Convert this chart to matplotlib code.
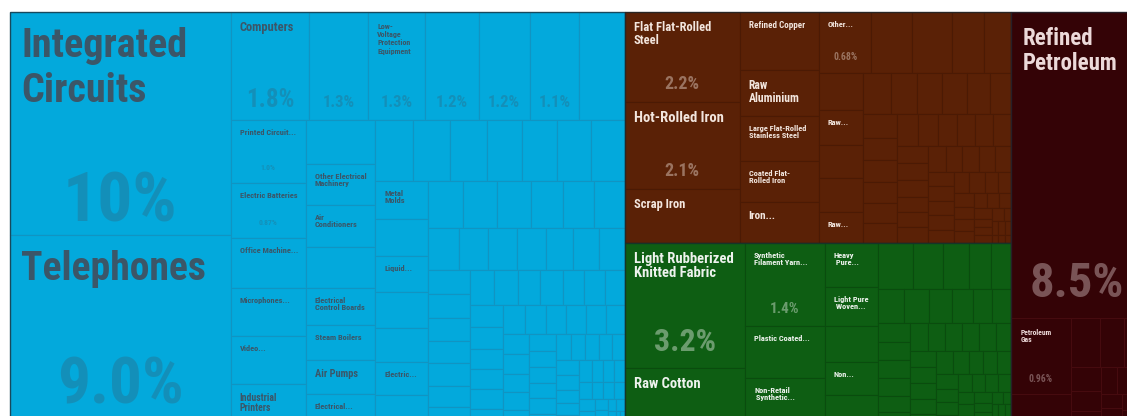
import matplotlib
matplotlib.use("Agg")
import matplotlib.pyplot as plt
from matplotlib.patches import Rectangle
from matplotlib import font_manager as fm

# ---------------- data (share of total, %) ----------------
group_names = ["Machines", "Metals", "Textiles", "Mineral Products"]

machines_names = [
    "Integrated\nCircuits", "Telephones",
    "Computers", "", "Low-\nVoltage\nProtection\nEquipment", "", "", "", "",
    "Printed Circuit...", "Electric Batteries", "Office Machine...", "Microphones...", "Video...", "Industrial\nPrinters",
    "", "Other Electrical\nMachinery", "Air\nConditioners", "", "Electrical\nControl Boards", "Steam Boilers", "Air Pumps", "Electrical...",
    "", "", "", "", "", "", "",
    "Metal\nMolds", "", "Liquid...", "", "", "Electric...", "",
]
machines_values = [
    10.4, 9.0,
    1.8, 1.34, 1.3, 1.23, 1.16, 1.14, 1.03,
    1.0, 0.87, 0.80, 0.77, 0.76, 0.70,
    0.64, 0.61, 0.61, 0.60, 0.55, 0.51, 0.50, 0.50,
    0.49, 0.48, 0.47, 0.46, 0.45, 0.44, 0.43,
    0.42, 0.41, 0.40, 0.39, 0.38, 0.37, 0.36,
    0.35, 0.34, 0.33, 0.32, 0.31, 0.30,
    0.27, 0.26, 0.25, 0.25, 0.24, 0.23, 0.22,
    0.22, 0.21, 0.21, 0.20, 0.20, 0.19, 0.19,
    0.18, 0.18, 0.17, 0.17, 0.16, 0.16, 0.15,
    0.15, 0.15, 0.14, 0.14, 0.14, 0.13, 0.13, 0.13, 0.12, 0.12, 0.12,
    0.11, 0.11, 0.11, 0.10, 0.10, 0.10, 0.10, 0.09, 0.09, 0.09, 0.09,
    0.08, 0.08, 0.08, 0.08, 0.07, 0.07, 0.07, 0.07, 0.06, 0.06, 0.06, 0.06,
    0.05, 0.05, 0.05, 0.05, 0.04, 0.04, 0.04, 0.04, 0.03, 0.03, 0.03, 0.03,
    0.02, 0.02, 0.02, 0.02, 0.01, 0.01, 0.01, 0.01,
]

metals_names = [
    "Flat Flat-Rolled\nSteel", "Hot-Rolled Iron", "Scrap Iron",
    "Refined Copper", "Raw\nAluminium", "Large Flat-Rolled\nStainless Steel", "Coated Flat-\nRolled Iron", "Iron...",
    "Other...", "", "", "", "",
    "", "Raw...", "", "", "Raw...",
]
metals_values = [
    2.2, 2.1, 1.31,
    0.97, 0.77, 0.75, 0.69, 0.68,
    0.68, 0.53, 0.51, 0.41, 0.36,
    0.34, 0.33, 0.31, 0.31, 0.29,
    0.24, 0.23, 0.22, 0.21, 0.20, 0.19,
    0.17, 0.16, 0.16, 0.15, 0.15, 0.14, 0.14, 0.13, 0.13, 0.12, 0.12, 0.12,
    0.11, 0.11, 0.11, 0.10, 0.10, 0.10, 0.10, 0.09, 0.09, 0.09, 0.09,
    0.08, 0.08, 0.08, 0.08, 0.07, 0.07, 0.07, 0.06, 0.06, 0.06,
    0.05, 0.05, 0.05, 0.04, 0.04, 0.04, 0.04, 0.03, 0.03, 0.03, 0.03,
    0.02, 0.02, 0.02, 0.02, 0.01, 0.01, 0.01,
]

textiles_names = [
    "Light Rubberized\nKnitted Fabric", "Raw Cotton",
    "Synthetic\nFilament Yarn...", "Plastic Coated...", "Non-Retail\n Synthetic...",
    "Heavy\n Pure...", "Light Pure\n Woven...", "", "Non...", "",
]
textiles_values = [
    3.2, 1.52,
    1.4, 0.88, 0.84,
    0.50, 0.44, 0.40, 0.37, 0.37,
    0.34, 0.29, 0.26, 0.21, 0.20,
    0.19, 0.18, 0.17, 0.15, 0.14, 0.14,
    0.13, 0.12, 0.12, 0.12, 0.11, 0.11, 0.11, 0.10, 0.10, 0.10, 0.10,
    0.09, 0.09, 0.09, 0.09, 0.08, 0.08, 0.08, 0.08, 0.07, 0.07, 0.07, 0.07,
    0.06, 0.06, 0.06, 0.05, 0.05, 0.05, 0.05, 0.04, 0.04, 0.04, 0.04,
    0.03, 0.03, 0.03, 0.03, 0.02, 0.02, 0.02, 0.02, 0.01, 0.01, 0.01, 0.01,
]

minerals_names = ["Refined\nPetroleum", "Petroleum\nGas"]
minerals_values = [
    8.5, 0.96, 0.42, 0.30, 0.25, 0.20, 0.16, 0.13, 0.11, 0.09, 0.08,
    0.07, 0.06, 0.05, 0.04, 0.04, 0.03, 0.03, 0.02, 0.02, 0.01,
]

# tiles whose share label is visible
machines_share_shown = [0, 1, 2, 3, 4, 5, 6, 7, 9, 10]
metals_share_shown = [0, 1, 8]
textiles_share_shown = [0, 2]
minerals_share_shown = [0, 1]

# ---------------- styles ----------------
STYLE = {
    "Machines": dict(fill="#03a9dc", edge="#1194c2", text="#3b5668", share_alpha=0.30),
    "Metals": dict(fill="#5a2106", edge="#4b1a04", text="#f3e6de", share_alpha=0.42),
    "Textiles": dict(fill="#0e5e13", edge="#0a4c0e", text="#eef3ee", share_alpha=0.42),
    "Mineral Products": dict(fill="#340306", edge="#460b0f", text="#ecd9d9", share_alpha=0.38),
}
TITLE_SIZE = {
    "Integrated\nCircuits": 29, "Telephones": 28.5, "Computers": 9,
    "Low-\nVoltage\nProtection\nEquipment": 5.8, "Industrial\nPrinters": 7, "Air Pumps": 7.5,
    "Flat Flat-Rolled\nSteel": 9, "Hot-Rolled Iron": 10.5, "Scrap Iron": 9, "Refined Copper": 6.5,
    "Raw\nAluminium": 8.5, "Iron...": 8,
    "Light Rubberized\nKnitted Fabric": 10.5, "Raw Cotton": 10.5,
    "Refined\nPetroleum": 16.5, "Petroleum\nGas": 5.5,
}
TITLE_LINESPACING = {"Integrated\nCircuits": 1.22, "Refined\nPetroleum": 1.1,
                     "Low-\nVoltage\nProtection\nEquipment": 1.2}
SHARE_SIZE = {
    "Machines": {0: 50, 1: 47, 2: 18, 3: 12, 4: 12, 5: 12, 6: 12, 7: 12, 9: 5.5, 10: 5.5},
    "Metals": {0: 13, 1: 13, 8: 7},
    "Textiles": {0: 23, 2: 11},
    "Mineral Products": {0: 35, 1: 7},
}
SHARE_OFFSET = {("Machines", 0): 14, ("Machines", 1): 25, ("Textiles", 0): 17,
                ("Mineral Products", 0): 21, ("Mineral Products", 1): 12}


def pick_font(cands):
    for f in cands:
        try:
            fm.findfont(fm.FontProperties(family=f), fallback_to_default=False)
            return f
        except Exception:
            pass
    return "DejaVu Sans"


FONT = pick_font(["Liberation Sans Narrow", "Roboto Condensed", "Roboto", "Liberation Sans"])
PHI = (1 + 5 ** 0.5) / 2


def squarify(values, x0, y0, x1, y1, ratio=PHI):
    """d3-style squarified treemap (ratio = golden ratio)."""
    n = len(values)
    rects = [None] * n
    value = float(sum(values))
    i0 = 0
    while i0 < n:
        dx, dy = x1 - x0, y1 - y0
        i1 = i0
        s = values[i1]
        i1 += 1
        mn = mx = s
        alpha = max(dy / dx, dx / dy) / (value * ratio)
        beta = s * s * alpha
        min_ratio = max(mx / beta, beta / mn)
        while i1 < n:
            nv = values[i1]
            s2 = s + nv
            mn2, mx2 = min(mn, nv), max(mx, nv)
            beta = s2 * s2 * alpha
            r = max(mx2 / beta, beta / mn2)
            if r > min_ratio:
                break
            s, mn, mx, min_ratio = s2, mn2, mx2, r
            i1 += 1
        if dx < dy:
            h = dy * s / value
            xx = x0
            for i in range(i0, i1):
                w = dx * values[i] / s
                rects[i] = (xx, y0, w, h)
                xx += w
            y0 += h
        else:
            w = dx * s / value
            yy = y0
            for i in range(i0, i1):
                h = dy * values[i] / s
                rects[i] = (x0, yy, w, h)
                yy += h
            x0 += w
        value -= s
        i0 = i1
    return rects


def fmt_share(v):
    if v >= 10:
        return f"{v:.0f}%"
    if v >= 1:
        return f"{v:.1f}%"
    return f"{v:.2f}%"


groups = [
    ("Machines", machines_names, machines_values, machines_share_shown),
    ("Metals", metals_names, metals_values, metals_share_shown),
    ("Textiles", textiles_names, textiles_values, textiles_share_shown),
    ("Mineral Products", minerals_names, minerals_values, minerals_share_shown),
]

fig = plt.figure(figsize=(11.27, 4.16), dpi=100)
ax = fig.add_axes([0, 0, 1, 1])
ax.set_xlim(0, 1127)
ax.set_ylim(416, 0)
ax.axis("off")

# full treemap extent (extends past the visible crop)
X0, Y0, X1, Y1 = 10, 12, 1143, 428
group_totals = [sum(g[2]) for g in groups]
group_rects = squarify(group_totals, X0, Y0, X1, Y1)

for (gname, names, values, shown), (gx, gy, gw, gh) in zip(groups, group_rects):
    st = STYLE[gname]
    tiles = squarify(values, gx, gy, gx + gw, gy + gh)
    for i, (x, y, w, h) in enumerate(tiles):
        ax.add_patch(Rectangle((x, y), w, h, facecolor=st["fill"], edgecolor=st["edge"], lw=0.8))
    for i, (x, y, w, h) in enumerate(tiles):
        name = names[i] if i < len(names) else ""
        if name:
            fs = TITLE_SIZE.get(name, 6)
            big = fs >= 14
            ax.text(x + (11 if big else 9), y + (15 if big else (11 if fs < 6 else 9)), name,
                    ha="left", va="top", fontsize=fs, fontweight="bold", color=st["text"],
                    family=FONT, linespacing=TITLE_LINESPACING.get(name, 1.0))
        if i in shown:
            fs = SHARE_SIZE[gname].get(i, 7)
            off = SHARE_OFFSET.get((gname, i), 13)
            ax.text(x + w / 2, y + h - off, fmt_share(values[i]), ha="center", va="baseline",
                    fontsize=fs, fontweight="bold", color=st["text"], alpha=st["share_alpha"],
                    family=FONT)
    ax.add_patch(Rectangle((gx, gy), gw, gh, facecolor="none", edgecolor="#1a2a33", lw=1.0, alpha=0.7))

fig.savefig("out.png", dpi=100, facecolor="white")
